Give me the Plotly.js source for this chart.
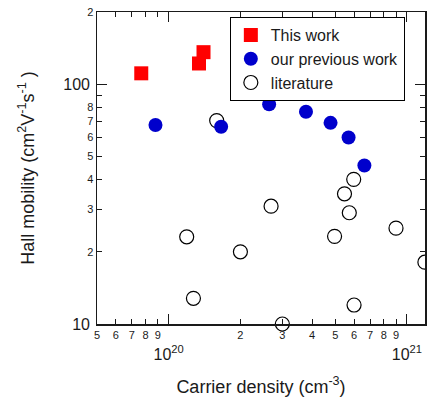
<!DOCTYPE html>
<html>
<head>
<meta charset="utf-8">
<script src="https://cdn.plot.ly/plotly-3.0.1.min.js"></script>
<style>html,body{margin:0;padding:0;background:#fff;}#chart{width:427px;height:397px;}</style>
</head>
<body>
<div id="chart"></div>
<script>
// ---- data ----
const thisWorkX = [7.67e19, 1.34e20, 1.40e20];
const thisWorkY = [111, 122, 136];
const prevWorkX = [8.8e19, 1.66e20, 2.64e20, 3.77e20, 4.78e20, 5.69e20, 6.63e20];
const prevWorkY = [67.6, 66.5, 82.4, 76.8, 69.0, 59.9, 45.8];
const litX = [1.59e20, 1.19e20, 1.27e20, 2.0e20, 2.69e20, 3.0e20, 5.47e20, 5.98e20, 5.73e20, 4.97e20, 9.0e20, 1.19e21, 6.0e20];
const litY = [70.5, 23.1, 12.8, 20.0, 31.0, 10.0, 34.9, 40.1, 29.1, 23.2, 25.1, 18.1, 12.0];

const xMinorVals = [5e19, 6e19, 7e19, 8e19, 9e19, 2e20, 3e20, 4e20, 5e20, 6e20, 7e20, 8e20, 9e20];
const xMinorText = ['5', '6', '7', '8', '9', '2', '3', '4', '5', '6', '7', '8', '9'];
const xMajorVals = [1e20, 1e21];
const xMajorText = ['10<sup>20</sup>', '10<sup>21</sup>'];
const yMinorVals = [20, 30, 40, 50, 60, 70, 80, 90, 200];
const yMinorText = ['2', '3', '4', '5', '6', '7', '8', '', '2'];
const yMajorVals = [10, 100];
const yMajorText = ['10', '100'];

const seriesNames = ['This work', 'our previous work', 'literature'];

const FONT = 'Liberation Sans, Arial, sans-serif';
const INK = '#1a1a1a';
const xRange = [Math.log10(5e19), 21.076];
const yRange = [1, Math.log10(200)];

const traces = [
  {x: litX, y: litY, name: seriesNames[2], type: 'scatter', mode: 'markers', legendrank: 3, cliponaxis: false,
   marker: {symbol: 'circle-open', size: 14, color: '#000', line: {width: 1.2, color: '#000'}}},
  {x: prevWorkX, y: prevWorkY, name: seriesNames[1], type: 'scatter', mode: 'markers', legendrank: 2,
   marker: {symbol: 'circle', size: 14, color: '#0000cc'}},
  {x: thisWorkX, y: thisWorkY, name: seriesNames[0], type: 'scatter', mode: 'markers', legendrank: 1,
   marker: {symbol: 'square', size: 14, color: '#ff0000'}},
  // invisible carriers so that the overlay axes (long decade ticks / big labels) are drawn
  {x: thisWorkX, y: thisWorkY, xaxis: 'x2', yaxis: 'y', type: 'scatter', mode: 'markers',
   showlegend: false, hoverinfo: 'skip', marker: {opacity: 0}},
  {x: thisWorkX, y: thisWorkY, xaxis: 'x', yaxis: 'y2', type: 'scatter', mode: 'markers',
   showlegend: false, hoverinfo: 'skip', marker: {opacity: 0}}
];

const layout = {
  width: 427, height: 397,
  margin: {l: 97, r: 2, t: 12, b: 73},
  paper_bgcolor: '#fff', plot_bgcolor: '#fff',
  font: {family: FONT, color: INK},
  showlegend: true,
  legend: {x: 0.405, y: 0.984, xanchor: 'left', yanchor: 'top', bgcolor: '#fff',
           bordercolor: '#000', borderwidth: 1, font: {family: FONT, size: 16, color: INK}},
  xaxis: {type: 'log', range: xRange, tickmode: 'array', tickvals: xMinorVals, ticktext: xMinorText,
          ticks: 'inside', ticklen: 5, tickwidth: 1, tickcolor: INK,
          showline: true, linecolor: INK, linewidth: 1.5, mirror: 'ticks',
          showgrid: false, zeroline: false, tickfont: {size: 11, family: FONT, color: INK},
          title: {text: 'Carrier density (cm<sup>-3</sup>)', font: {size: 18, family: FONT, color: INK}, standoff: 40}},
  xaxis2: {type: 'log', range: xRange, overlaying: 'x', anchor: 'y', side: 'bottom',
           tickmode: 'array', tickvals: xMajorVals, ticktext: xMajorText,
           ticks: 'inside', ticklen: 10, tickwidth: 1, tickcolor: INK, mirror: 'ticks',
           showline: false, showgrid: false, zeroline: false, ticklabelstandoff: 19,
           tickfont: {size: 16, family: FONT, color: INK}},
  yaxis: {type: 'log', range: yRange, tickmode: 'array', tickvals: yMinorVals, ticktext: yMinorText,
          ticks: 'inside', ticklen: 5, tickwidth: 1, tickcolor: INK,
          showline: true, linecolor: INK, linewidth: 1.5, mirror: 'ticks',
          showgrid: false, zeroline: false, tickfont: {size: 11, family: FONT, color: INK},
          title: {text: 'Hall mobility (cm<sup>2</sup>V<sup>-1</sup>s<sup>-1</sup> )', font: {size: 18, family: FONT, color: INK}, standoff: 48}},
  yaxis2: {type: 'log', range: yRange, overlaying: 'y', anchor: 'x', side: 'left',
           tickmode: 'array', tickvals: yMajorVals, ticktext: yMajorText,
           ticks: 'inside', ticklen: 10, tickwidth: 1, tickcolor: INK, mirror: 'ticks',
           showline: false, showgrid: false, zeroline: false, ticklabelstandoff: 6,
           tickfont: {size: 16, family: FONT, color: INK}}
};

Plotly.newPlot('chart', traces, layout, {displayModeBar: false, staticPlot: true});
</script>
</body>
</html>
